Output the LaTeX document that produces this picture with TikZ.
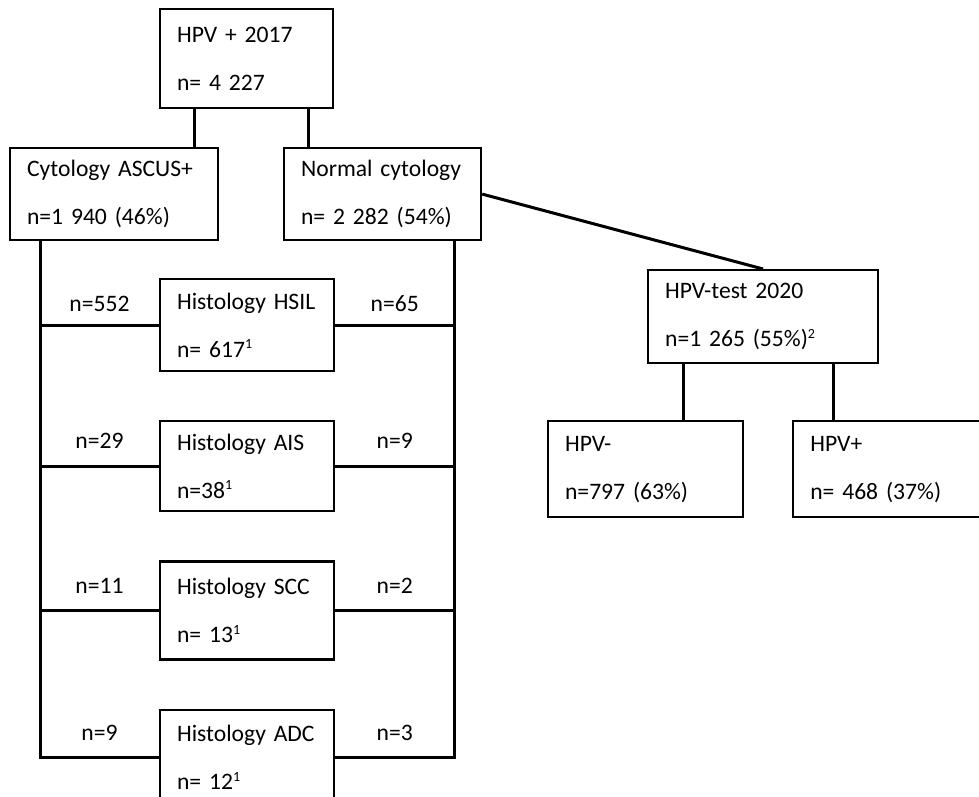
\documentclass[tikz,border=0pt]{standalone}
\usepackage{fontspec}
\setmainfont{Carlito}
\usetikzlibrary{positioning}

\newcommand{\fnmark}[1]{\raisebox{0.75ex}{\fontsize{7}{7}\selectfont #1}}

\begin{document}
\begin{tikzpicture}[
		x=0.5pt,y=-0.5pt,
		font=\fontsize{11.8}{24}\selectfont,
		node distance=24pt,
		box/.style={
			rectangle,draw,line width=1.1pt,align=left,
			anchor=north west,
			inner xsep=8.5pt,inner ysep=0pt
		},
		histo/.style={box,text width=70pt,minimum height=46pt},
		link/.style={line width=1.5pt},
		count/.style={above=8pt,inner sep=0pt}
		]
		
		\useasboundingbox (0,0) rectangle (979,797);
		
		\node[box,text width=69.5pt,minimum height=49.5pt] (hpv17) at (159,8)
		{HPV + 2017\\n= 4 227};
		
		\node[box,text width=87pt,minimum height=46pt] (ascus) at (9,147)
		{Cytology ASCUS+\\n=1 940 (46\%)};
		
		\node[box,text width=81.5pt,minimum height=46pt] (normal) at (283,147)
		{Normal cytology\\n= 2 282 (54\%)};
		
		\node[histo] (hsil) at (159,278)
		{Histology HSIL\\n= 617\fnmark{1}};
		
		\node[histo,below=of hsil,minimum height=45pt] (ais)
		{Histology AIS\\n=38\fnmark{1}};
		
		\node[histo,below=of ais,minimum height=49pt] (scc)
		{Histology SCC\\n= 13\fnmark{1}};
		
		\node[histo,below=of scc,minimum height=48pt] (adc)
		{Histology ADC\\n= 12\fnmark{1}};
		
		\node[box,text width=98pt,minimum height=46.5pt] (hpvtest) at (647,269)
		{HPV-test 2020\\n=1 265 (55\%)\fnmark{2}};
		
		\node[box,text width=80.5pt,minimum height=48pt] (hpvneg) at (547,420)
		{HPV-\\n=797 (63\%)};
		
		\node[box,text width=80.5pt,minimum height=48pt,right=of hpvneg] (hpvpos)
		{HPV+\\n= 468 (37\%)};
		
		% first split
		\draw[link] ([xshift=-26pt]hpv17.south) -- ([xshift=-26pt]hpv17.south |- ascus.north);
		\draw[link] ([xshift=31pt]hpv17.south) -- ([xshift=31pt]hpv17.south |- normal.north);
		
		% rails down to the histology boxes
		\coordinate (lrail) at ([xshift=15.5pt]ascus.south west);
		\coordinate (rrail) at ([xshift=-14pt]normal.south east);
		
		\draw[link] (lrail) |- (adc.west) node[count,pos=0.75]{n=9};
		\draw[link] (rrail) |- (adc.east) node[count,pos=0.75]{n=3};
		
		\draw[link] (lrail |- hsil.west) -- node[count,above=6pt]{n=552} (hsil.west);
		\draw[link] (hsil.east) -- node[count,above=6pt]{n=65} (rrail |- hsil.east);
		
		\draw[link] (lrail |- ais.west) -- node[count]{n=29} (ais.west);
		\draw[link] (ais.east) -- node[count]{n=9} (rrail |- ais.east);
		
		\draw[link] (lrail |- scc.west) -- node[count]{n=11} (scc.west);
		\draw[link] (scc.east) -- node[count]{n=2} (rrail |- scc.east);
		
		% follow-up test
		\draw[link] (normal.east) -- (hpvtest.north);
		
		\draw[link] ([xshift=-40pt]hpvtest.south) -- ([xshift=-40pt]hpvtest.south |- hpvneg.north);
		\draw[link] ([xshift=35pt]hpvtest.south) -- ([xshift=35pt]hpvtest.south |- hpvpos.north);
		
	\end{tikzpicture}
\end{document}
